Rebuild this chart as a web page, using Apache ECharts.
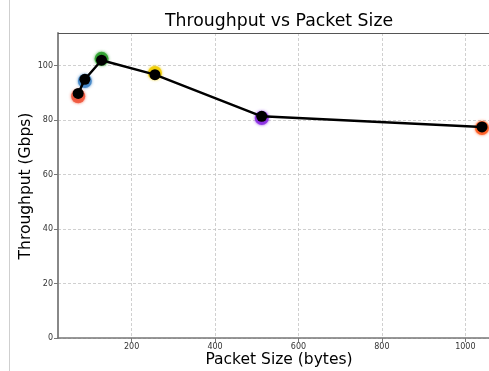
<!DOCTYPE html>
<html>
<head>
<meta charset="utf-8">
<script src="https://cdn.jsdelivr.net/npm/echarts@6/dist/echarts.min.js"></script>
<style>html,body{margin:0;padding:0;background:#fff}#c{width:489px;height:371px}</style>
</head>
<body>
<div id="c"></div>
<script>
const packetSizes = [72, 88, 128, 256, 512, 1040];
const meanThroughput = [89.8, 95.0, 102.0, 96.7, 81.4, 77.5];
const runThroughput = [88.8, 94.4, 102.5, 97.3, 80.8, 77.1];
const yTicks = [0, 20, 40, 60, 80, 100];
const xTicks = [200, 400, 600, 800, 1000];
const pointColors = ['#f0553a', '#3f84c6', '#2ca02c', '#f0cc00', '#8a2be2', '#ff5a1f'];
const xTitle = 'Packet Size (bytes)';
const yTitle = 'Throughput (Gbps)';

const FONT = 'DejaVu Sans';
const chart = echarts.init(document.getElementById('c'), null, {renderer: 'canvas'});

const scatterSeries = packetSizes.map((x, i) => ({
  type: 'scatter',
  data: [[x, runThroughput[i]]],
  symbolSize: 14,
  itemStyle: {color: pointColors[i], opacity: 0.85, shadowBlur: 3, shadowColor: pointColors[i]},
  z: 2
}));

chart.setOption({
  animation: false,
  title: {
    text: 'Throughput vs Packet Size',
    left: 165, top: 13, padding: 0,
    textStyle: {fontFamily: FONT, fontSize: 17.3, fontWeight: 'normal', color: '#000'}
  },
  graphic: [
    {type: 'rect', shape: {x: 9, y: 0, width: 1, height: 371}, style: {fill: '#cfcfcf'}, silent: true},
    {type: 'line', shape: {x1: 58, y1: 33.5, x2: 489, y2: 33.5}, style: {stroke: '#555', lineWidth: 1}, silent: true, z: 10},
    {type: 'text', x: 279, y: 360, style: {text: xTitle, font: '15.5px "DejaVu Sans"', fill: '#000', textAlign: 'center', textVerticalAlign: 'middle'}, silent: true},
    {type: 'text', x: 26, y: 186, rotation: Math.PI / 2, style: {text: yTitle, font: '15.5px "DejaVu Sans"', fill: '#000', textAlign: 'center', textVerticalAlign: 'middle'}, silent: true}
  ],
  grid: {left: 58, right: 0, top: 33, bottom: 33, show: false},
  xAxis: {
    type: 'value', min: 23.6, max: 1056.8, interval: 200,
    axisLine: {show: true, onZero: false, lineStyle: {color: '#777', width: 1.5}},
    axisTick: {show: true, length: 4, lineStyle: {color: '#777'}, customValues: xTicks},
    axisLabel: {fontFamily: FONT, fontSize: 8, color: '#333', margin: 5, customValues: xTicks, formatter: v => String(v)},
    splitLine: {show: true, lineStyle: {color: '#c4c4c4', type: [3, 2], width: 0.8}}
  },
  yAxis: {
    type: 'value', min: 0, max: 112, interval: 20,
    axisLine: {show: true, lineStyle: {color: '#888', width: 2}},
    axisTick: {show: true, length: 4, lineStyle: {color: '#777'}, customValues: yTicks},
    axisLabel: {fontFamily: FONT, fontSize: 8, color: '#333', margin: 5, customValues: yTicks, formatter: v => String(v)},
    splitLine: {show: true, lineStyle: {color: '#c4c4c4', type: [3, 2], width: 0.8}}
  },
  series: scatterSeries.concat([{
    type: 'line',
    data: packetSizes.map((x, i) => [x, meanThroughput[i]]),
    symbol: 'circle', symbolSize: 11, showSymbol: true,
    lineStyle: {color: '#000', width: 2.5},
    itemStyle: {color: '#000'},
    z: 3
  }])
});
</script>
</body>
</html>
